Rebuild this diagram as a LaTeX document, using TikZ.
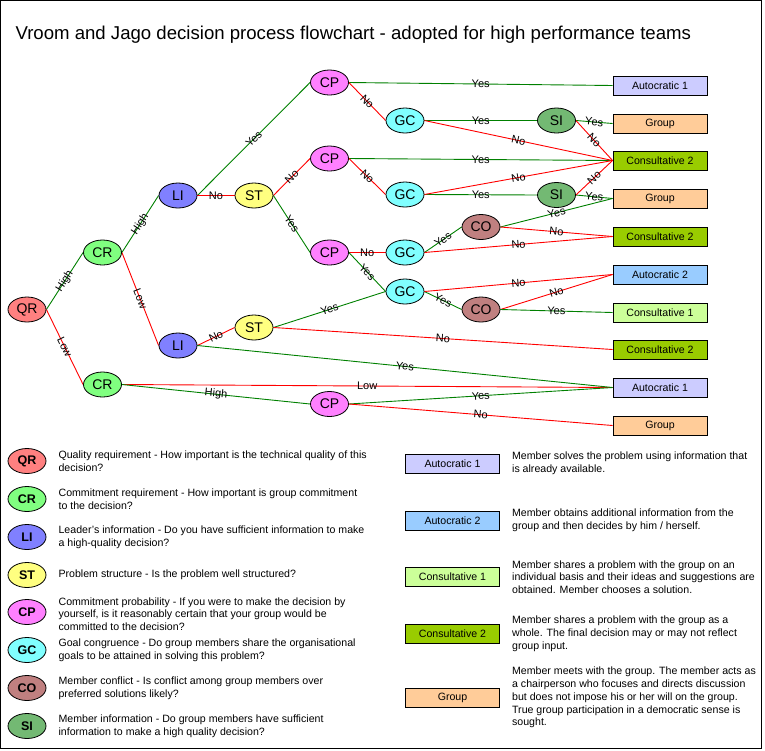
\documentclass[tikz,border=0pt]{standalone}
\usepackage{fontspec}
\setmainfont{Liberation Sans}
\usepackage{tikz}
\usetikzlibrary{positioning,shapes.geometric,backgrounds}

\definecolor{qrfill}{HTML}{FF8080}
\definecolor{crfill}{HTML}{80FF80}
\definecolor{lifill}{HTML}{8080FF}
\definecolor{stfill}{HTML}{FFFF80}
\definecolor{cpfill}{HTML}{FF80FF}
\definecolor{gcfill}{HTML}{80FFFF}
\definecolor{cofill}{HTML}{C08080}
\definecolor{sifill}{HTML}{73B973}
\definecolor{aonefill}{HTML}{CCCCFF}
\definecolor{atwofill}{HTML}{99CCFF}
\definecolor{conefill}{HTML}{CCFF99}
\definecolor{ctwofill}{HTML}{99CC00}
\definecolor{grpfill}{HTML}{FFCC99}
\definecolor{yesline}{HTML}{008000}

\begin{document}
\begin{tikzpicture}[
    x=1pt, y=-1pt,
    font=\fontsize{10.6}{12.8}\selectfont,
    node distance=12pt,
    q/.style={ellipse, draw, line width=0.8pt, minimum width=38pt,
              minimum height=25pt, inner sep=0pt,
              font=\fontsize{14}{14}\selectfont},
    key/.style={q, font=\bfseries\fontsize{12.5}{12.5}\selectfont},
    res/.style={draw, line width=0.9pt, minimum width=94pt,
                minimum height=19pt, inner sep=0pt},
    desc/.style={inner sep=0pt, align=left},
    yesedge/.style={draw=yesline, line width=0.9pt},
    noedge/.style={draw=red, line width=0.9pt},
    lbl/.style={midway, sloped, inner sep=0pt, font=\fontsize{11}{11}\selectfont}
  ]
    \useasboundingbox (0,0) rectangle (765,750);
    \draw[line width=1pt] (0.5,0.5) rectangle (761.5,748.5);
    \node[anchor=base west, font=\fontsize{18.6}{21}\selectfont] (title) at (12,39)
      {Vroom and Jago decision process flowchart - adopted for high performance teams};

    % decision tree
    \node[q, fill=qrfill] (QR) at (27,309.5) {QR};
    \node[q, fill=crfill] (CRh) at (102.5,252.5) {CR};
    \node[q, fill=crfill] (CRl) at (102.5,384.5) {CR};
    \node[q, fill=lifill] (LIh) at (178,195.5) {LI};
    \node[q, fill=lifill] (LIl) at (178,345.5) {LI};
    \node[q, fill=stfill] (STh) at (254,195.5) {ST};
    \node[q, fill=stfill] (STl) at (254,327.5) {ST};
    \node[q, fill=cpfill] (CPa) at (329.5,82.5) {CP};
    \node[q, fill=cpfill] (CPb) at (329.5,158.5) {CP};
    \node[q, fill=cpfill] (CPc) at (329.5,252.5) {CP};
    \node[q, fill=cpfill] (CPd) at (329.5,404) {CP};
    \node[q, fill=gcfill] (GCa) at (405,120.5) {GC};
    \node[q, fill=gcfill] (GCb) at (405,194.5) {GC};
    \node[q, fill=gcfill] (GCc) at (405,252.5) {GC};
    \node[q, fill=gcfill] (GCd) at (405,291.5) {GC};
    \node[q, fill=cofill] (COa) at (481,227) {CO};
    \node[q, fill=cofill] (COb) at (481,309.5) {CO};
    \node[q, fill=sifill] (SIa) at (556.5,120.5) {SI};
    \node[q, fill=sifill] (SIb) at (556.5,195) {SI};

    % outcomes
    \node[res, fill=aonefill] (R1) at (660,85.5) {Autocratic 1};
    \node[res, fill=grpfill] (R2) at (660,123.5) {Group};
    \node[res, fill=ctwofill] (R3) at (660,160.5) {Consultative 2};
    \node[res, fill=grpfill] (R4) at (660,198.5) {Group};
    \node[res, fill=ctwofill] (R5) at (660,236.5) {Consultative 2};
    \node[res, fill=atwofill] (R6) at (660,274.5) {Autocratic 2};
    \node[res, fill=conefill] (R7) at (660,312.5) {Consultative 1};
    \node[res, fill=ctwofill] (R8) at (660,349.5) {Consultative 2};
    \node[res, fill=aonefill] (R9) at (660,387.5) {Autocratic 1};
    \node[res, fill=grpfill] (R10) at (660,425.5) {Group};

    \begin{scope}[on background layer]
      \draw[yesedge] (QR.east) -- node[lbl]{High} (CRh.west);
      \draw[noedge] (QR.east) -- node[lbl]{Low} (CRl.west);
      \draw[yesedge] (CRh.east) -- node[lbl]{High} (LIh.west);
      \draw[noedge] (CRh.east) -- node[lbl]{Low} (LIl.west);
      \draw[yesedge] (LIh.east) -- node[lbl]{Yes} (CPa.west);
      \draw[noedge] (LIh.east) -- node[lbl]{No} (STh.west);
      \draw[noedge] (STh.east) -- node[lbl]{No} (CPb.west);
      \draw[yesedge] (STh.east) -- node[lbl]{Yes} (CPc.west);
      \draw[noedge] (LIl.east) -- node[lbl]{No} (STl.west);
      \draw[yesedge] (LIl.east) -- node[lbl]{Yes} (R9.west);
      \draw[yesedge] (STl.east) -- node[lbl]{Yes} (GCd.west);
      \draw[noedge] (STl.east) -- node[lbl]{No} (R8.west);
      \draw[noedge] (CRl.east) -- node[lbl]{Low} (R9.west);
      \draw[yesedge] (CRl.east) -- node[lbl]{High} (CPd.west);
      \draw[yesedge] (CPa.east) -- node[lbl]{Yes} (R1.west);
      \draw[noedge] (CPa.east) -- node[lbl]{No} (GCa.west);
      \draw[yesedge] (CPb.east) -- node[lbl]{Yes} (R3.west);
      \draw[noedge] (CPb.east) -- node[lbl]{No} (GCb.west);
      \draw[noedge] (CPc.east) -- node[lbl]{No} (GCc.west);
      \draw[yesedge] (CPc.east) -- node[lbl]{Yes} (GCd.west);
      \draw[yesedge] (CPd.east) -- node[lbl]{Yes} (R9.west);
      \draw[noedge] (CPd.east) -- node[lbl]{No} (R10.west);
      \draw[yesedge] (GCa.east) -- node[lbl]{Yes} (SIa.west);
      \draw[noedge] (GCa.east) -- node[lbl]{No} (R3.west);
      \draw[yesedge] (GCb.east) -- node[lbl]{Yes} (SIb.west);
      \draw[noedge] (GCb.east) -- node[lbl]{No} (R3.west);
      \draw[yesedge] (GCc.east) -- node[lbl]{Yes} (COa.west);
      \draw[noedge] (GCc.east) -- node[lbl]{No} (R5.west);
      \draw[yesedge] (GCd.east) -- node[lbl]{Yes} (COb.west);
      \draw[noedge] (GCd.east) -- node[lbl]{No} (R6.west);
      \draw[yesedge] (COa.east) -- node[lbl]{Yes} (R4.west);
      \draw[noedge] (COa.east) -- node[lbl]{No} (R5.west);
      \draw[noedge] (COb.east) -- node[lbl]{No} (R6.west);
      \draw[yesedge] (COb.east) -- node[lbl]{Yes} (R7.west);
      \draw[yesedge] (SIa.east) -- node[lbl]{Yes} (R2.west);
      \draw[noedge] (SIa.east) -- node[lbl]{No} (R3.west);
      \draw[yesedge] (SIb.east) -- node[lbl]{Yes} (R4.west);
      \draw[noedge] (SIb.east) -- node[lbl]{No} (R3.west);
    \end{scope}

    % legend: questions
    \node[key, fill=qrfill] (kQR) at (27,461) {QR};
    \node[key, fill=crfill] (kCR) at (27,499) {CR};
    \node[key, fill=lifill] (kLI) at (27,537) {LI};
    \node[key, fill=stfill] (kST) at (27,575) {ST};
    \node[key, fill=cpfill] (kCP) at (27,612) {CP};
    \node[key, fill=gcfill] (kGC) at (27,650) {GC};
    \node[key, fill=cofill] (kCO) at (27,688) {CO};
    \node[key, fill=sifill] (kSI) at (27,726) {SI};
    \node[desc, right=of kQR] (tQR) {Quality requirement - How important is the technical quality of this\\decision?};
    \node[desc, right=of kCR] (tCR) {Commitment requirement - How important is group commitment\\to the decision?};
    \node[desc, right=of kLI] (tLI) {Leader's information - Do you have sufficient information to make\\a high-quality decision?};
    \node[desc, right=of kST] (tST) {Problem structure - Is the problem well structured?};
    \node[desc, right=of kCP, yshift=-2pt] (tCP) {Commitment probability - If you were to make the decision by\\yourself, is it reasonably certain that your group would be\\committed to the decision?};
    \node[desc, right=of kGC] (tGC) {Goal congruence - Do group members share the organisational\\goals to be attained in solving this problem?};
    \node[desc, right=of kCO] (tCO) {Member conflict - Is conflict among group members over\\preferred solutions likely?};
    \node[desc, right=of kSI] (tSI) {Member information - Do group members have sufficient\\information to make a high quality decision?};

    % legend: outcomes
    \node[res, fill=aonefill] (kA1) at (452.5,464) {Autocratic 1};
    \node[res, fill=atwofill] (kA2) at (452.5,521) {Autocratic 2};
    \node[res, fill=conefill] (kC1) at (452.5,577) {Consultative 1};
    \node[res, fill=ctwofill] (kC2) at (452.5,634) {Consultative 2};
    \node[res, fill=grpfill] (kG) at (452.5,697.5) {Group};
    \node[desc, right=of kA1, yshift=1pt] (tA1) {Member solves the problem using information that\\is already available.};
    \node[desc, right=of kA2, yshift=1pt] (tA2) {Member obtains additional information from the\\group and then decides by him / herself.};
    \node[desc, right=of kC1] (tC1) {Member shares a problem with the group on an\\individual basis and their ideas and suggestions are\\obtained. Member chooses a solution.};
    \node[desc, right=of kC2] (tC2) {Member shares a problem with the group as a\\whole. The final decision may or may not reflect\\group input.};
    \node[desc, right=of kG] (tG) {Member meets with the group. The member acts as\\a chairperson who focuses and directs discussion\\but does not impose his or her will on the group.\\True group participation in a democratic sense is\\sought.};
\end{tikzpicture}
\end{document}
